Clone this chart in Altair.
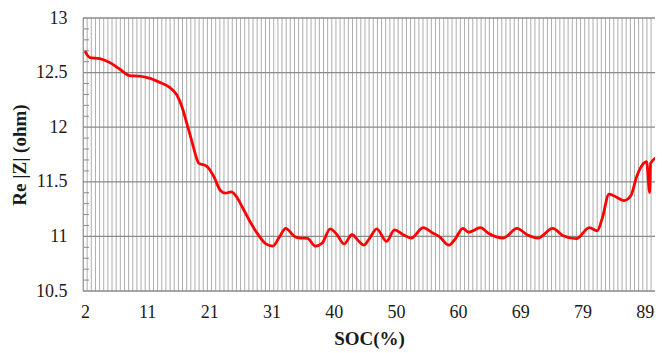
import altair as alt
import pandas as pd
import numpy as np

# SOC (%) sample positions and Re|Z| (ohm) values
soc = [2.00, 2.77, 4.31, 5.84, 7.38, 8.92, 10.45, 11.99, 13.53, 15.06, 16.29, 17.06,
       17.83, 18.60, 19.37, 19.68, 20.91, 21.98, 23.06, 23.83, 24.75, 25.52, 26.59,
       27.67, 28.90, 30.13, 31.20, 32.28, 33.20, 34.59, 35.51, 36.58, 37.81, 38.89,
       40.12, 41.19, 42.27, 43.50, 44.58, 45.34, 46.27, 47.34, 48.88, 50.11, 51.49,
       52.72, 54.57, 56.10, 57.03, 58.56, 59.64, 60.71, 61.64, 63.48, 64.71, 67.02,
       69.17, 70.71, 72.40, 74.70, 76.24, 78.39, 80.39, 81.62, 82.39, 83.46, 84.69,
       85.77, 86.84, 87.77, 88.84, 89.30, 89.76, 89.92, 90.84]
rez = [12.696, 12.637, 12.628, 12.592, 12.533, 12.473, 12.467, 12.449, 12.413, 12.369,
       12.295, 12.190, 12.036, 11.875, 11.714, 11.670, 11.643, 11.554, 11.420, 11.396,
       11.408, 11.366, 11.253, 11.134, 11.018, 10.931, 10.911, 11.000, 11.074, 11.000,
       10.985, 10.982, 10.911, 10.940, 11.069, 11.015, 10.931, 11.015, 10.955, 10.920,
       10.985, 11.069, 10.955, 11.060, 11.015, 10.985, 11.080, 11.029, 11.000, 10.920,
       10.985, 11.074, 11.038, 11.080, 11.029, 10.985, 11.074, 11.015, 10.985, 11.074,
       11.009, 10.979, 11.080, 11.051, 11.163, 11.387, 11.357, 11.328, 11.372, 11.551,
       11.670, 11.685, 11.402, 11.670, 11.723]

# axis tick positions (category-axis positions) and their labels
x_tick_values = [2, 11.67, 21.33, 31, 40.67, 50.33, 60, 69.67, 79.33, 89]
y_major = [10.5, 11, 11.5, 12, 12.5, 13]
y_minor = [10.6, 10.7, 10.8, 10.9, 11.1, 11.2, 11.3, 11.4, 11.6, 11.7, 11.8, 11.9,
           12.1, 12.2, 12.3, 12.4, 12.6, 12.7, 12.8, 12.9]

x_domain = [1.7, 90.6]
cat_step = 9.6667 / 15
grid_x = list(np.arange(x_domain[0], x_domain[1] + 0.01, cat_step))

df = pd.DataFrame({"soc": soc, "re": rez})
vgrid_df = pd.DataFrame({"soc": grid_x})
hgrid_df = pd.DataFrame({"re": y_major})
minor_df = pd.DataFrame({"re": y_minor})

FONT = "Liberation Serif"
xscale = alt.Scale(domain=x_domain, zero=False, nice=False)
yscale = alt.Scale(domain=[10.5, 13], zero=False, nice=False)

x_axis = alt.Axis(values=x_tick_values, labelExpr="floor(datum.value)", grid=False,
                  ticks=False, domain=False, labelFont=FONT, labelFontSize=18,
                  labelColor="#1a1a1a", labelPadding=12, title="SOC(%)",
                  titleFont=FONT, titleFontSize=19, titleFontWeight="bold",
                  titleColor="#1a1a1a", titlePadding=8)
y_axis = alt.Axis(values=y_major, format=".1~f", grid=False, ticks=False, domain=True,
                  domainColor="#8c8c8c", labelFont=FONT, labelFontSize=18,
                  labelColor="#1a1a1a", labelPadding=16, title="Re |Z| (ohm)",
                  titleFont=FONT, titleFontSize=19, titleFontWeight="bold",
                  titleColor="#1a1a1a", titleX=-64, titleBaseline="middle")

vgrid = alt.Chart(vgrid_df).mark_rule(color="#adadad", strokeWidth=1).encode(
    x=alt.X("soc:Q", scale=xscale, axis=x_axis)
)
hgrid = alt.Chart(hgrid_df).mark_rule(color="#8a8a8a", strokeWidth=1.3).encode(
    y=alt.Y("re:Q", scale=yscale, axis=y_axis)
)
minor = alt.Chart(minor_df).mark_rule(color="#8a8a8a", strokeWidth=1).encode(
    y=alt.Y("re:Q", scale=yscale, axis=y_axis),
    x=alt.value(1), x2=alt.value(6)
)
line = alt.Chart(df).mark_line(color="#ff0000", strokeWidth=2.8, interpolate="monotone",
                               clip=True).encode(
    x=alt.X("soc:Q", scale=xscale, axis=x_axis),
    y=alt.Y("re:Q", scale=yscale, axis=y_axis)
)

chart = alt.layer(vgrid, hgrid, minor, line).properties(
    width=572, height=273,
    autosize=alt.AutoSizeParams(type="none"),
    padding={"left": 75, "top": 10, "right": 0, "bottom": 60},
    background="white"
).configure_view(stroke=None)

chart.save("out.html", embed_options={"renderer": "svg", "actions": False})
